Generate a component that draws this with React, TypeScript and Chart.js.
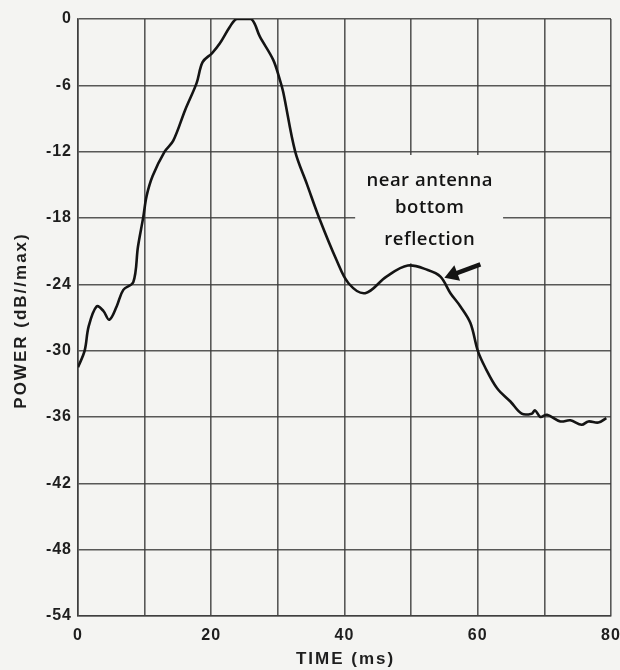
import React, { useEffect, useRef } from 'react';
import { Chart, registerables } from 'chart.js';

Chart.register(...registerables);

// Time axis (ms) and received power (dB relative to max)
const timeMs = [
  0.0, 1.0, 1.6, 2.8, 3.8, 4.7, 5.8, 6.8, 8.3, 9.0, 9.8, 10.3, 11.2, 13.0, 14.3,
  16.1, 17.8, 18.7, 20.1, 21.3, 22.8, 23.8, 26.0, 27.3, 29.3, 30.3, 30.8, 32.6,
  34.4, 36.2, 38.8, 40.6, 43.1, 46.3, 49.5, 52.5, 54.4, 55.9, 57.4, 58.9, 60.0,
  61.1, 62.9, 64.9, 66.6, 68.1, 68.6, 69.4, 70.4, 72.4, 73.9, 75.6, 76.6, 78.1,
  79.3,
];
const powerDb = [
  -31.5, -30.0, -27.8, -26.0, -26.4, -27.2, -26.0, -24.5, -23.8, -20.6, -17.9,
  -16.0, -14.2, -12.0, -11.0, -8.2, -5.8, -3.9, -3.1, -2.2, -0.7, 0.0, 0.0, -1.6,
  -3.7, -5.5, -6.6, -12.0, -15.0, -18.0, -21.8, -23.9, -24.8, -23.3, -22.3,
  -22.7, -23.3, -24.8, -26.0, -27.5, -30.0, -31.5, -33.4, -34.6, -35.7, -35.7,
  -35.4, -36.0, -35.8, -36.4, -36.3, -36.7, -36.4, -36.5, -36.1,
];

const xMin = 0;
const xMax = 80;
const xGridStep = 10;
const xLabelStep = 20;
const yMin = -54;
const yMax = 0;
const yStep = 6;

const xTitle = 'TIME (ms)';
const yTitle = 'POWER (dB//max)';

// Annotation, anchored in data coordinates
const noteLines = ['near antenna', 'bottom', 'reflection'];
const noteX = 52.8;
const noteY = [-14.6, -17.1, -20.0];
const noteBoxX = [41.6, 63.8];
const noteBoxY = [-12.3, -22.1];
const arrowFrom = [60.4, -22.2];
const arrowTo = [55.0, -23.4];

const BG = '#f4f4f2';
const INK = '#141414';
const TEXT = '#1e1e1e';
const GRID = 'rgba(60,60,60,0.85)';
const SANS = '"Liberation Sans", Arial, sans-serif';

const spacingPlugin = {
  id: 'spacing',
  beforeDraw(chart: any) {
    chart.ctx.letterSpacing = '1px';
  },
  afterDraw(chart: any) {
    chart.ctx.letterSpacing = '0px';
  },
};

const titlesPlugin = {
  id: 'titles',
  afterDraw(chart: any) {
    const { ctx, chartArea } = chart;
    ctx.save();
    ctx.letterSpacing = '2px';
    ctx.fillStyle = TEXT;
    ctx.font = `bold 17px ${SANS}`;
    ctx.textAlign = 'center';
    ctx.textBaseline = 'middle';
    const cx = (chartArea.left + chartArea.right) / 2;
    ctx.fillText(xTitle, cx + 1, chartArea.bottom + 43);
    const cy = (chartArea.top + chartArea.bottom) / 2;
    ctx.translate(chartArea.left - 57, cy + 4);
    ctx.rotate(-Math.PI / 2);
    ctx.fillText(yTitle, 1, 0);
    ctx.restore();
    ctx.letterSpacing = '0px';
  },
};

const notePlugin = {
  id: 'note',
  beforeDatasetsDraw(chart: any) {
    const { ctx, scales } = chart;
    const x = scales.x;
    const y = scales.y;
    ctx.save();
    ctx.letterSpacing = '0.5px';
    const x0 = x.getPixelForValue(noteBoxX[0]);
    const x1 = x.getPixelForValue(noteBoxX[1]);
    const y0 = y.getPixelForValue(noteBoxY[0]);
    const y1 = y.getPixelForValue(noteBoxY[1]);
    ctx.fillStyle = BG;
    ctx.fillRect(x0, y0, x1 - x0, y1 - y0);
    ctx.fillStyle = INK;
    ctx.font = '600 18.5px "Open Sans", sans-serif';
    ctx.textAlign = 'center';
    ctx.textBaseline = 'middle';
    noteLines.forEach((t, i) => {
      ctx.fillText(t, x.getPixelForValue(noteX), y.getPixelForValue(noteY[i]));
    });
    ctx.restore();
  },
  afterDatasetsDraw(chart: any) {
    const { ctx, scales } = chart;
    const x = scales.x;
    const y = scales.y;
    const fx = x.getPixelForValue(arrowFrom[0]);
    const fy = y.getPixelForValue(arrowFrom[1]);
    const tx = x.getPixelForValue(arrowTo[0]);
    const ty = y.getPixelForValue(arrowTo[1]);
    const ang = Math.atan2(ty - fy, tx - fx);
    const head = 16;
    const spread = 0.55;
    ctx.save();
    ctx.strokeStyle = INK;
    ctx.fillStyle = INK;
    ctx.lineWidth = 4.5;
    ctx.lineCap = 'butt';
    ctx.beginPath();
    ctx.moveTo(fx, fy);
    ctx.lineTo(tx - Math.cos(ang) * head * 0.6, ty - Math.sin(ang) * head * 0.6);
    ctx.stroke();
    ctx.beginPath();
    ctx.moveTo(tx, ty);
    ctx.lineTo(tx - Math.cos(ang - spread) * head, ty - Math.sin(ang - spread) * head);
    ctx.lineTo(tx - Math.cos(ang + spread) * head, ty - Math.sin(ang + spread) * head);
    ctx.closePath();
    ctx.fill();
    ctx.restore();
  },
};

export default function App() {
  const ref = useRef<HTMLCanvasElement | null>(null);

  useEffect(() => {
    if (!ref.current) return;
    const points = timeMs.map((t, i) => ({ x: t, y: powerDb[i] }));
    const chart = new Chart(ref.current, {
      type: 'line',
      data: {
        datasets: [
          {
            data: points,
            borderColor: INK,
            borderWidth: 2.6,
            pointRadius: 0,
            tension: 0.35,
            fill: false,
          },
        ],
      },
      options: {
        animation: false,
        responsive: false,
        maintainAspectRatio: false,
        layout: { padding: { left: 0, right: 9, top: 19, bottom: 0 } },
        plugins: {
          legend: { display: false },
          tooltip: { enabled: false },
        },
        scales: {
          x: {
            type: 'linear',
            min: xMin,
            max: xMax,
            afterFit: (s: any) => {
              s.height = 54;
              s.paddingLeft = 0;
              s.paddingRight = 0;
            },
            grid: { color: GRID, lineWidth: 1.6, drawTicks: false },
            border: { display: true, color: GRID, width: 1.6 },
            ticks: {
              stepSize: xGridStep,
              padding: 10,
              color: TEXT,
              font: { family: SANS, size: 16, weight: 'bold' },
              callback: (v: any) => (Number(v) % xLabelStep === 0 ? String(v) : ''),
            },
            title: { display: false, text: xTitle },
          },
          y: {
            type: 'linear',
            min: yMin,
            max: yMax,
            afterFit: (s: any) => {
              s.width = 78;
              s.paddingTop = 0;
              s.paddingBottom = 0;
            },
            grid: { color: GRID, lineWidth: 1.6, drawTicks: false },
            border: { display: true, color: GRID, width: 1.6 },
            ticks: {
              stepSize: yStep,
              padding: 6,
              color: TEXT,
              font: { family: SANS, size: 16, weight: 'bold' },
            },
            title: { display: false, text: yTitle },
          },
        },
      },
      plugins: [spacingPlugin, notePlugin, titlesPlugin],
    });
    return () => chart.destroy();
  }, []);

  return (
    <div style={{ position: 'absolute', left: 0, top: 0, width: 620, height: 670, background: BG }}>
      <canvas ref={ref} width={620} height={670} style={{ width: 620, height: 670, display: 'block' }} />
    </div>
  );
}
